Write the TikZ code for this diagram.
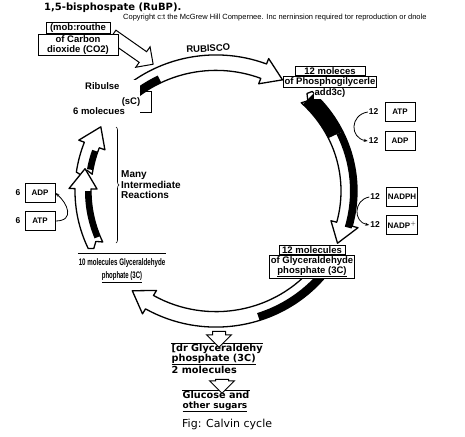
\documentclass[tikz,border=0pt]{standalone}
\usepackage{fontspec}
\setmainfont{Liberation Sans}
\newfontfamily\verdfont{DejaVu Sans}
\usetikzlibrary{arrows.meta,positioning,shapes.arrows,decorations.pathreplacing}

% ring radii (px)
\def\ringin{125}
\def\ringmid{133}
\def\ringout{141}

\tikzset{
  ribbon/.style={draw=black, fill=white, line width=1.3pt, line join=round},
  labelbox/.style={
    rectangle, draw=black, fill=white, line width=0.8pt,
    font=\fontsize{9.5}{10}\selectfont\bfseries, align=center,
    inner sep=1pt
  },
  plainlabel/.style={
    rectangle, fill=white, font=\fontsize{9.5}{10}\selectfont\bfseries,
    align=center, inner sep=1pt
  },
  cofactorbox/.style={
    rectangle, draw=black, line width=0.8pt,
    minimum width=30pt, minimum height=19pt, inner sep=1pt,
    font=\fontsize{8}{9}\selectfont\bfseries
  },
  countlabel/.style={font=\fontsize{8.5}{9}\selectfont\bfseries, inner sep=1pt},
  cofactorarrow/.style={-{Stealth[length=4pt]}, line width=0.8pt},
  fatarrow/.style={
    shape=single arrow, draw=black, fill=white, line width=1pt,
    inner sep=0pt, inner ysep=6pt, single arrow head extend=6pt,
    minimum height=#1
  },
  fatarrow/.default=20pt,
  topline/.style={path picture={\draw[line width=1.6pt]
    (path picture bounding box.north west) -- (path picture bounding box.north east);}},
  bracedeco/.style={decorate, decoration={brace, amplitude=3pt}, line width=0.6pt},
  footlabel/.style={font=\verdfont\fontsize{9.7}{10}\selectfont\bfseries,
    align=left, fill=white, inner sep=0.5pt},
}

% #1 tail angle, #2 tip angle
\newcommand\ribbonarrow[2]{%
  \draw[ribbon] (#1:\ringin) -- ({#1+1.5}:{\ringmid-2}) -- ({#1-1}:{\ringmid+3}) -- (#1:\ringout)
    arc[start angle=#1, end angle=#2-9, radius=\ringout]
    -- ({#2-9}:{\ringout+6}) -- (#2:\ringmid) -- ({#2-9}:{\ringin-6}) -- ({#2-9}:\ringin)
    arc[start angle=#2-9, end angle=#1, radius=\ringin] -- cycle;}
% dark edge of a ribbon
\newcommand\edgeband[4]{%
  \fill[black] (#1:#3) arc[start angle=#1, end angle=#2, radius=#3]
    -- (#2:#4) arc[start angle=#2, end angle=#1, radius=#4] -- cycle;}

\begin{document}
\begin{tikzpicture}[x=1pt, y=-1pt]
  \useasboundingbox[fill=white] (0,0) rectangle (465,436);

  % heading
  \node[anchor=west, font=\verdfont\fontsize{10}{12}\selectfont\bfseries, inner sep=0pt]
    (title) at (44,8) {1,5-bisphospate (RuBP).};
  \node[anchor=west, font=\fontsize{7.5}{9}\selectfont, inner sep=0pt] (copyright) at (123,18)
    {Copyright c:t the McGrew Hill Compernee. Inc nerninsion required tor reproduction or dnole};

  % the cycle
  \begin{scope}[shift={(216,191)}, yscale=0.965]
    \ribbonarrow{-138}{-60}
    \edgeband{-136}{-116}{\ringin}{133}
    \ribbonarrow{-47}{24}
    \edgeband{-46}{-26}{\ringin}{\ringout}
    \edgeband{-26}{16}{134}{\ringout}
    \ribbonarrow{38}{129}
    \edgeband{40}{72}{133}{\ringout}
    \ribbonarrow{188}{210}
    \edgeband{190}{199}{\ringin}{131}
    \ribbonarrow{155}{190}
    \edgeband{158}{180}{\ringin}{131}
    \node[font=\fontsize{9.5}{10}\selectfont\bfseries, rotate=3, inner sep=0pt]
      (rubisco) at (-93:148) {RUBISCO};
  \end{scope}

  % carbon dioxide in
  \node[fatarrow=50pt, rotate=-35] (co2arrow) at (130,48) {};
  \node[labelbox, minimum width=64pt] (co2a) at (78,28) {(mob:routhe};
  \node[labelbox, minimum width=80pt, below=0pt of co2a] (co2b) {of Carbon\\dioxide (CO2)};

  % RuBP
  \node[rectangle, fill=white, minimum width=93pt, minimum height=35pt] (rubp) at (93,97) {};
  \draw[line width=0.7pt] (rubp.north east) ++(0,12) -- ++(12,0) -- ++(0,21) -- ++(-12,0);
  \node[plainlabel, anchor=west] (rubpname) at (84,86) {Ribulse};
  \node[plainlabel] (rubpc) at (131,102) {(sC)};
  \node[plainlabel] (rubpn) at (99,111) {6 molecues};

  % phosphoglycerate
  \node[labelbox, minimum width=70pt] (pga) at (330,71) {12 moleces};
  \node[labelbox, below=0pt of pga] (pgb) {of Phosphogilycerle};
  \node[plainlabel, below=0pt of pgb] (pgc) {add3c)};

  \node[cofactorbox] (atp12) at (400,112) {ATP};
  \node[cofactorbox] (adp12) at (400,141) {ADP};
  \node[countlabel, left=5pt of atp12] (c12atp) {12};
  \node[countlabel, left=5pt of adp12] (c12adp) {12};
  \draw[cofactorarrow] (c12atp.west) .. controls +(-18,3) and +(-18,-3) .. (c12adp.west);

  \node[cofactorbox, minimum width=31pt] (nadph12) at (402,197) {NADPH};
  \node[cofactorbox, minimum width=31pt] (nadp12) at (402,225) {NADP$^{+}$};
  \node[countlabel, left=5pt of nadph12] (c12nadph) {12};
  \node[countlabel, left=5pt of nadp12] (c12nadp) {12};
  \draw[cofactorarrow] (c12nadph.west) .. controls +(-16,3) and +(-16,-3) .. (c12nadp.west);

  % glyceraldehyde phosphate
  \node[labelbox, minimum width=66pt] (gaa) at (312,250) {12 molecules};
  \node[labelbox, minimum width=82pt, below=0pt of gaa] (gab)
    {of Glyceraldehyde\\\underline{phosphate (3C)}};

  \node[plainlabel, topline, minimum width=84pt, minimum height=35pt] (ga10) at (122,271)
    {\scalebox{0.65}[1]{10 molecules Glyceraldehyde}\\[3pt]\underline{\scalebox{0.63}[1]{phophate (3C)}}};

  % intermediate reactions
  \draw[bracedeco] (116,127) -- (116,243);
  \node[anchor=west, align=left, font=\fontsize{10}{10.5}\selectfont\bfseries, inner sep=0pt]
    (many) at (121,185) {Many\\Intermediate\\Reactions};

  \node[cofactorbox] (adp6) at (40,193) {ADP};
  \node[cofactorbox] (atp6) at (40,221) {ATP};
  \node[countlabel, left=3pt of adp6] (c6adp) {6};
  \node[countlabel, left=3pt of atp6] (c6atp) {6};
  \draw[cofactorarrow] (atp6.east) .. controls +(20,0) and +(12,10) .. (adp6.east);

  % products
  \node[footlabel, topline, anchor=north west] (gaout) at (171,343)
    {[dr Glyceraldehy\\\underline{phosphate (3C)}\\2 molecules};
  \node[fatarrow=16pt, rotate=-90] (downa) at (219,336) {};
  \node[footlabel, topline, anchor=north west] (sugar) at (182,390)
    {Glucose and\\\underline{\fontsize{9}{10}\selectfont other sugars}};
  \node[fatarrow=14pt, rotate=-90] (downb) at (222,383) {};

  \node[anchor=west, font=\verdfont\fontsize{11}{12}\selectfont, inner sep=0pt] (figcap) at (182,424)
    {Fig: Calvin cycle};
\end{tikzpicture}
\end{document}
